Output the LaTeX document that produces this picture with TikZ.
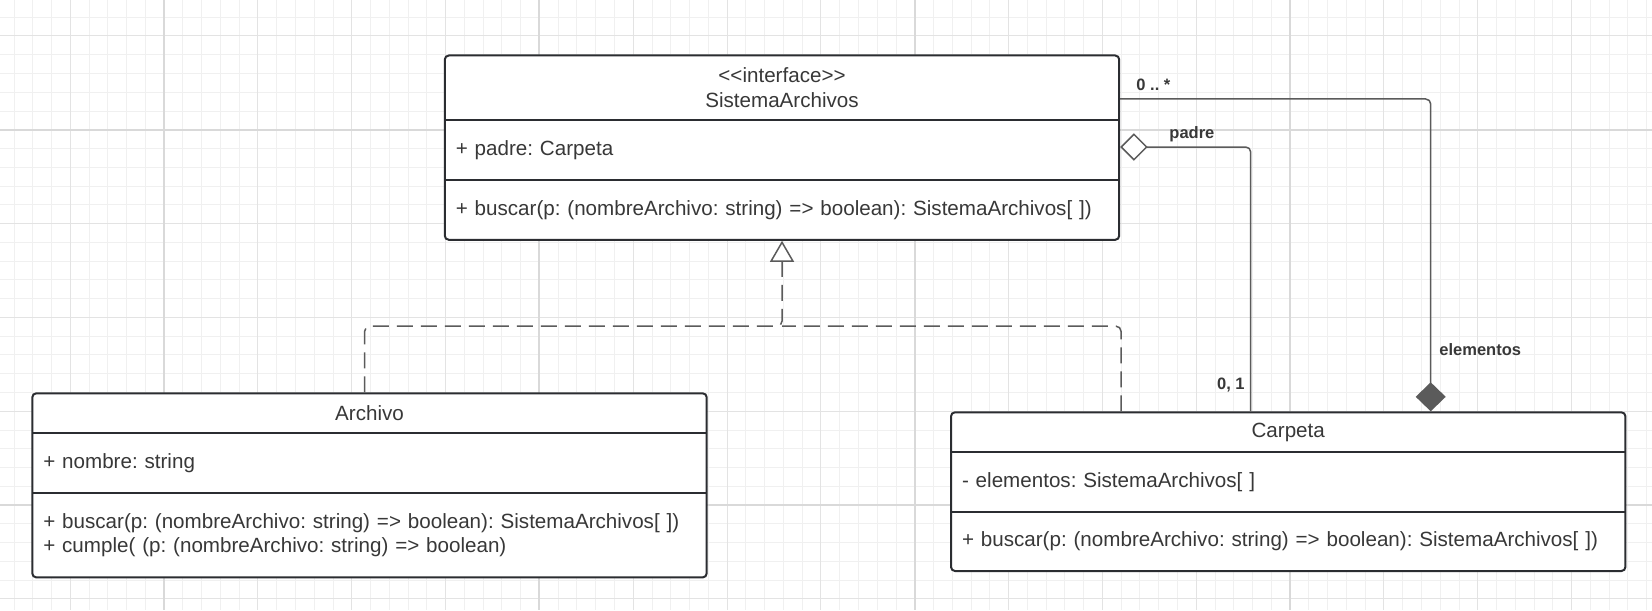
\documentclass[tikz,border=0pt]{standalone}
\usepackage{fontspec}
\newfontfamily\umlfont{Liberation Sans}
\usepackage{tikz}
\usetikzlibrary{arrows.meta, positioning, fit, backgrounds}
\frenchspacing

\definecolor{boxline}{HTML}{2B2D31}
\definecolor{umltext}{HTML}{383838}
\definecolor{connline}{HTML}{5B5B5B}
\definecolor{gridminor}{HTML}{F0F0F0}
\definecolor{gridmajor}{HTML}{E3E3E3}
\definecolor{gridsuper}{HTML}{D9D9D9}

\begin{document}
\begin{tikzpicture}[
    x=0.5pt, y=-0.5pt,
    node distance=0pt,
    gmin/.style={draw=gridminor, line width=0.5pt},
    gmaj/.style={draw=gridmajor, line width=0.5pt},
    gsup/.style={draw=gridsuper, line width=1pt},
    part/.style={inner xsep=5.5pt, inner ysep=0pt, outer sep=0pt, text width=326.2pt, align=left, font=\umlfont\fontsize{10.3pt}{12.2pt}\selectfont, text=umltext},
    head/.style={part, align=center},
    cls/.style={draw=boxline, line width=1pt, rounded corners=2pt, fill=white, inner sep=0pt},
    sep/.style={draw=boxline, line width=1pt},
    conn/.style={draw=connline, line width=0.75pt, rounded corners=2.5pt},
    dconn/.style={conn, dash pattern=on 8pt off 4pt},
    real/.style={dconn, -{Triangle[open, fill=white, length=10.5pt, width=12pt]}},
    lbl/.style={font=\umlfont\bfseries\fontsize{8.25pt}{10pt}\selectfont, text=umltext, inner sep=0pt}
]
    \useasboundingbox (0,0) rectangle (1652,610);

    % grid
    \begin{scope}[on background layer]
        \fill[white] (0,0) rectangle (1652,610);
        \foreach \i in {0,...,87} \draw[gmin] ({14+18.766*\i},0) -- ({14+18.766*\i},610);
        \foreach \i in {0,...,31} \draw[gmin] (0,{17.2+18.766*\i}) -- (1652,{17.2+18.766*\i});
        \foreach \i in {0,...,16} \draw[gmaj] ({70.3+93.83*\i},0) -- ({70.3+93.83*\i},610);
        \foreach \i in {0,...,6} \draw[gmaj] (0,{36+93.83*\i}) -- (1652,{36+93.83*\i});
        \foreach \i in {0,...,3} \draw[gsup] ({164.1+375.32*\i},0) -- ({164.1+375.32*\i},610);
        \foreach \i in {0,1} \draw[gsup] (0,{130+375.32*\i}) -- (1652,{130+375.32*\i});
    \end{scope}

    % SistemaArchivos
    \node[head, minimum height=32.15pt, anchor=north west] (sa-head) at (444.8,55.5) {<\kern0pt<interface>\kern0pt>\\SistemaArchivos};
    \node[part, minimum height=30pt, below=of sa-head] (sa-attr) {+ padre: Carpeta};
    \node[part, minimum height=30pt, below=of sa-attr] (sa-ops) {+ buscar(p: (nombreArchivo: string) => boolean): SistemaArchivos[ ])};

    % Archivo
    \node[head, minimum height=19.7pt, anchor=north west] (ar-head) at (32.3,393.3) {Archivo};
    \node[part, minimum height=30pt, below=of ar-head] (ar-attr) {+ nombre: string};
    \node[part, minimum height=42.35pt, below=of ar-attr] (ar-ops) {+ buscar(p: (nombreArchivo: string) => boolean): SistemaArchivos[ ])\\+ cumple( (p: (nombreArchivo: string) => boolean)};

    % Carpeta
    \node[head, minimum height=19.7pt, anchor=north west] (ca-head) at (951,412.3) {Carpeta};
    \node[part, minimum height=30pt, below=of ca-head] (ca-attr) {- elementos: SistemaArchivos[ ]};
    \node[part, minimum height=29.65pt, below=of ca-attr] (ca-ops) {+ buscar(p: (nombreArchivo: string) => boolean): SistemaArchivos[ ])};

    \begin{scope}[on background layer]
        \node[cls, fit=(sa-head)(sa-ops)] (sa) {};
        \node[cls, fit=(ar-head)(ar-ops)] (ar) {};
        \node[cls, fit=(ca-head)(ca-ops)] (ca) {};
    \end{scope}
    \draw[sep] (sa-head.south west) -- (sa-head.south east);
    \draw[sep] (sa-attr.south west) -- (sa-attr.south east);
    \draw[sep] (ar-head.south west) -- (ar-head.south east);
    \draw[sep] (ar-attr.south west) -- (ar-attr.south east);
    \draw[sep] (ca-head.south west) -- (ca-head.south east);
    \draw[sep] (ca-attr.south west) -- (ca-attr.south east);

    % realization
    \coordinate (join) at ([yshift=-42.7pt]sa.south);
    \draw[real] ([xshift=166.7pt]ar.north west) |- (join) -- (sa.south);
    \draw[dconn] ([xshift=85.5pt]ca.north west) |- (join);

    % associations
    \draw[conn, {Diamond[open, fill=white, length=13.75pt, width=13.75pt]}-] ([yshift=-46.25pt]sa.north east) -| ([xshift=150.35pt]ca.north west);
    \draw[conn, -{Diamond[fill=connline, length=14.5pt, width=15pt]}] ([yshift=-22.25pt]sa.north east) -| ([xshift=240.35pt]ca.north west);

    \node[lbl, anchor=west] (mult-el) at (1136,85) {0 .. *};
    \node[lbl, anchor=west] (role-padre) at (1169,134) {padre};
    \node[lbl, anchor=west] (role-el) at (1439,350) {elementos};
    \node[lbl, anchor=east] (mult-padre) at (1245,385) {0, 1};
\end{tikzpicture}
\end{document}
